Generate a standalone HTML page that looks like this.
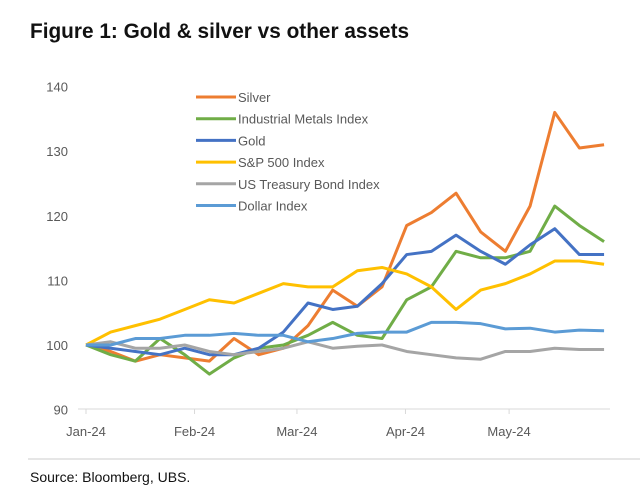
<!DOCTYPE html>
<html><head><meta charset="utf-8"><style>
body{margin:0;background:#fff;width:640px;height:503px;overflow:hidden;font-family:"Liberation Sans",sans-serif}
#title{position:absolute;left:30px;top:20px;font-size:20.8px;font-weight:bold;color:#111}
#src{position:absolute;left:30px;top:469px;font-size:14px;color:#111}
svg{position:absolute;left:0;top:0}
</style></head><body>
<div id="title">Figure 1: Gold &amp; silver vs other assets</div>
<svg id="c" width="640" height="503"></svg>
<div id="src">Source: Bloomberg, UBS.</div>
<script>
const xTicks=["Jan-24","Feb-24","Mar-24","Apr-24","May-24"];
const yTicks=[90,100,110,120,130,140];
const seriesNames=["Silver","Industrial Metals Index","Gold","S&P 500 Index","US Treasury Bond Index","Dollar Index"];
const seriesColors=["#ed7d31","#70ad47","#4472c4","#ffc000","#a5a5a5","#5b9bd5"];
const silver=[100,99,97.5,98.5,98,97.5,101,98.5,99.5,103,108.5,106,109,118.5,120.5,123.5,117.5,114.5,121.5,136,130.5,131];
const industrial=[100,98.5,97.5,101,98.5,95.5,98,99.5,100,101.5,103.5,101.5,101,107,109,114.5,113.5,113.5,114.5,121.5,118.5,116];
const gold=[100,99.5,99,98.5,99.5,98.5,98.5,99.5,102,106.5,105.5,106,109.5,114,114.5,117,114.5,112.5,115.5,118,114,114];
const sp500=[100,102,103,104,105.5,107,106.5,108,109.5,109,109,111.5,112,111,109,105.5,108.5,109.5,111,113,113,112.5];
const treasury=[100,100.5,99.5,99.5,100,99,98.5,99,99.5,100.5,99.5,99.8,100,99,98.5,98,97.8,99,99,99.5,99.3,99.3];
const dollar=[100,100,101,101,101.5,101.5,101.8,101.5,101.5,100.5,101,101.8,102,102,103.5,103.5,103.3,102.5,102.6,102,102.3,102.2];
const allSeries=[silver,industrial,gold,sp500,treasury,dollar];
const NS="http://www.w3.org/2000/svg",svg=document.getElementById('c');
const x0=86,dx=24.67,yv=v=>345-(v-100)*6.46;
const xi=i=>x0+i*dx;
function el(t,a){const e=document.createElementNS(NS,t);for(const k in a)e.setAttribute(k,a[k]);svg.appendChild(e);return e;}
let ax=el('line',{x1:78,x2:610,y1:409,y2:409,stroke:'#d9d9d9'});

yTicks.forEach(v=>{const t=el('text',{x:68,y:yv(v)+5,'text-anchor':'end','font-size':13,fill:'#595959'});t.textContent=v;
});
const xTickPos=[0,4.4,8.55,12.95,17.15];
xTicks.forEach((s,i)=>{const x=xi(xTickPos[i]);el('line',{x1:x,x2:x,y1:409,y2:414,stroke:'#d9d9d9'});
const t=el('text',{x:x,y:436,'text-anchor':'middle','font-size':13,fill:'#595959'});t.textContent=s;
});
allSeries.forEach((d,k)=>{const p=el('polyline',{points:d.map((v,i)=>xi(i)+','+yv(v)).join(' '),fill:'none',stroke:seriesColors[k],'stroke-width':3,'stroke-linejoin':'round'});

const ly=97+k*21.7;el('line',{x1:196,x2:236,y1:ly,y2:ly,stroke:seriesColors[k],'stroke-width':3});
const t=el('text',{x:238,y:ly+5,'font-size':13,fill:'#595959'});t.textContent=seriesNames[k];
});
let sep=el('line',{x1:28,x2:640,y1:459,y2:459,stroke:'#ccc'});

</script>
</body></html>
